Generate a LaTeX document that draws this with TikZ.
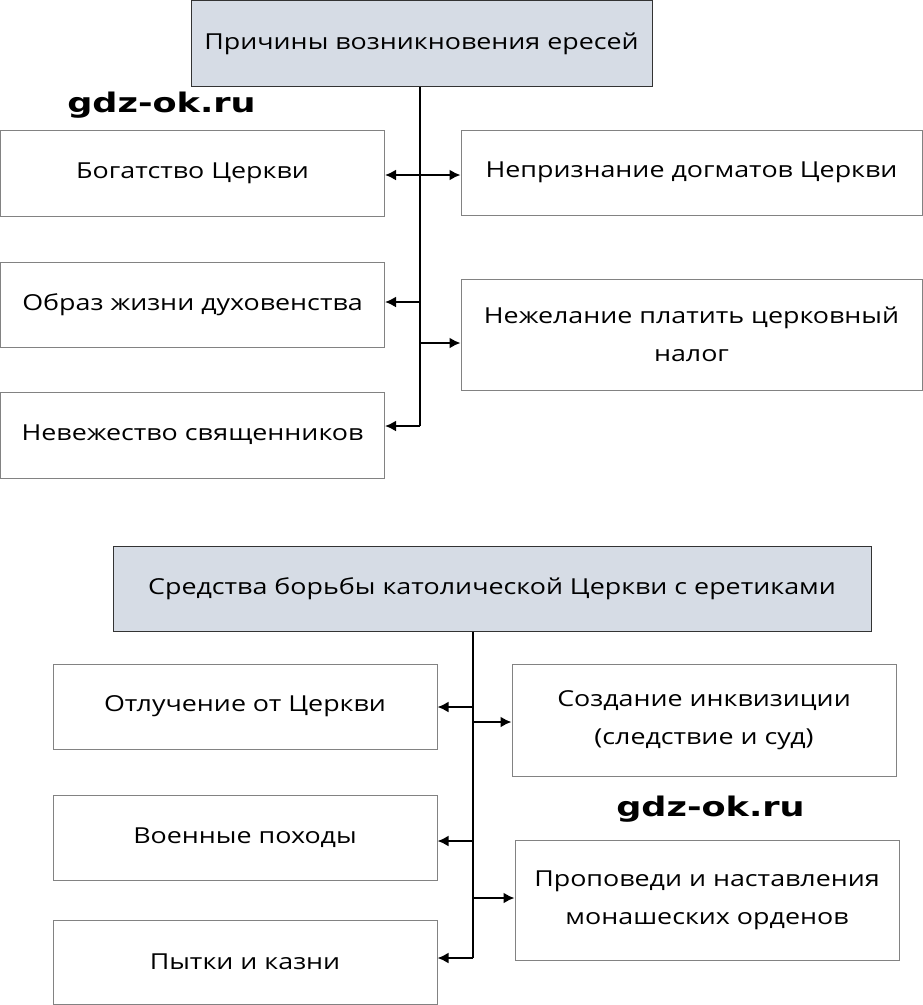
\documentclass[tikz,border=0pt]{standalone}
\usepackage{fontspec}
\setmainfont{Open Sans}[FakeStretch=1.22]
\newfontfamily\wmfont{DejaVu Sans}[FakeStretch=1.3]
\usetikzlibrary{arrows.meta}
\definecolor{headfill}{RGB}{214,220,229}
\definecolor{boxline}{RGB}{130,130,130}

\begin{document}
\begin{tikzpicture}[x=1pt,y=-1pt,
  box/.style={draw=boxline, line width=1, align=center, inner sep=0,
    minimum width=384, minimum height=86, font=\fontsize{22}{38}\selectfont},
  head/.style={box, fill=headfill, draw=black!80},
  arr/.style={-{Latex[length=11pt,width=11pt]}, line width=2},
  trunk/.style={line width=2},
  wmark/.style={font=\wmfont\bfseries\fontsize{27}{30}\selectfont, inner sep=0}]
\useasboundingbox (0,0) rectangle (923,1005);

% causes
\node[head, minimum width=461] (h1) at (421.5,43.5) {Причины возникновения ересей};
\node[box] (l1) at (192.5,173) {Богатство Церкви};
\node[box, minimum height=85] (l2) at (192.5,304.5) {Образ жизни духовенства};
\node[box] (l3) at (192.5,435) {Невежество священников};
\node[box, minimum width=461, minimum height=85] (r1) at (691.5,172.5) {Непризнание догматов Церкви};
\node[box, minimum width=461, minimum height=111] (r2) at (691.5,334.5) {Нежелание платить церковный\\налог};

\coordinate (a1) at (420,175);
\coordinate (a2) at (420,302);
\coordinate (a3) at (420,343);
\coordinate (a4) at (420,426);
\draw[trunk] (h1.south -| a1) -- (a4);
\draw[arr] (a1) -- (a1 -| l1.east);
\draw[arr] (a1) -- (a1 -| r1.west);
\draw[arr] (a2) -- (a2 -| l2.east);
\draw[arr] (a3) -- (a3 -| r2.west);
\draw[arr] (a4) -- (a4 -| l3.east);

% struggle
\node[head, minimum width=758, minimum height=85] (h2) at (492,588.5) {Средства борьбы католической Церкви с еретиками};
\node[box, minimum height=85] (m1) at (245,706.5) {Отлучение от Церкви};
\node[box, minimum height=85] (m2) at (245,837.5) {Военные походы};
\node[box, minimum height=84] (m3) at (245,962) {Пытки и казни};
\node[box, minimum height=112] (n1) at (704,720) {Создание инквизиции\\(следствие и суд)};
\node[box, minimum height=120] (n2) at (707,900) {Проповеди и наставления\\монашеских орденов};

\coordinate (b1) at (473,707);
\coordinate (b2) at (473,722);
\coordinate (b3) at (473,841);
\coordinate (b4) at (473,898);
\coordinate (b5) at (473,958);
\draw[trunk] (h2.south -| b1) -- (b5);
\draw[arr] (b1) -- (b1 -| m1.east);
\draw[arr] (b2) -- (b2 -| n1.west);
\draw[arr] (b3) -- (b3 -| m2.east);
\draw[arr] (b4) -- (b4 -| n2.west);
\draw[arr] (b5) -- (b5 -| m3.east);

\node[wmark] (w1) at (161.5,105) {gdz-ok.ru};
\node[wmark] (w2) at (710.5,809) {gdz-ok.ru};
\end{tikzpicture}
\end{document}
